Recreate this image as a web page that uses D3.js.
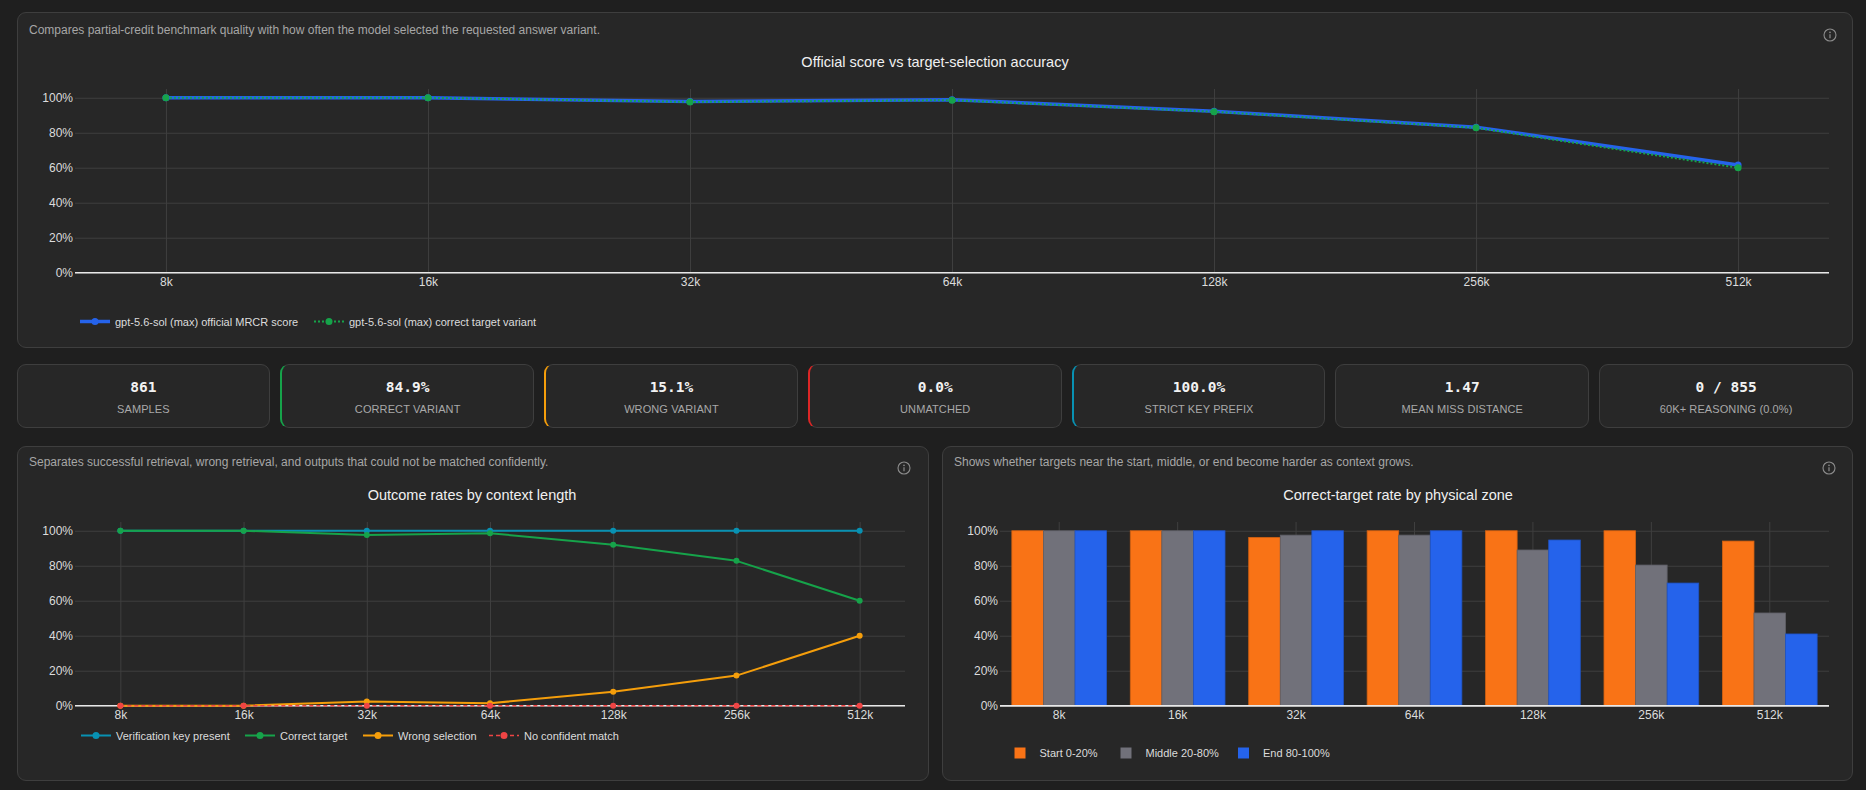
<!DOCTYPE html>
<html>
<head>
<meta charset="utf-8">
<script src="https://cdn.jsdelivr.net/npm/d3@7"></script>
<style>
  body { margin: 0; width: 1866px; height: 790px; overflow: hidden; background: #1f1f1f;
         font-family: "Liberation Sans", Arial, sans-serif; }
  .panel { position: absolute; box-sizing: border-box; background: #272727;
           border: 1px solid #3e3e3e; border-radius: 9px; }
  .card { position: absolute; box-sizing: border-box; background: #272727;
          border: 1px solid #3e3e3e; border-radius: 9px; text-align: center; }
  .card .v { position: absolute; left: 0; right: 0; top: 14px; font: bold 14.5px "DejaVu Sans Mono", monospace; color: #f2f2f2; }
  .card .l { position: absolute; left: 0; right: 0; top: 38px; font-size: 11px; color: #a9a9a9; letter-spacing: 0.1px; }
  #chart { position: absolute; left: 0; top: 0; }
</style>
</head>
<body>
<svg id="chart" width="1866" height="790"></svg>
<script>
// context lengths shared by every chart
const contexts = ['8k', '16k', '32k', '64k', '128k', '256k', '512k'];
const yTicks = [0, 20, 40, 60, 80, 100];

// top chart
const officialScore = [100, 100, 97.8, 98.9, 92.3, 83.2, 61.6];
const correctVariant = [100, 100, 97.6, 98.6, 92.0, 82.8, 60.0];

// outcome chart
const keyPresent = [100, 100, 100, 100, 100, 100, 100];
const correctTarget = [100, 100, 97.6, 98.6, 92.0, 82.8, 60.0];
const wrongSelection = [0, 0, 2.4, 1.4, 8.0, 17.2, 40.0];
const noMatch = [0, 0, 0, 0, 0, 0, 0];

// zone chart
const zones = ['Start 0-20%', 'Middle 20-80%', 'End 80-100%'];
const zoneStart = [100, 100, 96.2, 100, 100, 100, 94.1];
const zoneMiddle = [100, 100, 97.5, 97.5, 89.0, 80.4, 53.0];
const zoneEnd = [100, 100, 100, 100, 94.7, 70.1, 41.0];

// stat cards
const statValues = ['861', '84.9%', '15.1%', '0.0%', '100.0%', '1.47', '0 / 855'];
const statLabels = ['SAMPLES', 'CORRECT VARIANT', 'WRONG VARIANT', 'UNMATCHED', 'STRICT KEY PREFIX', 'MEAN MISS DISTANCE', '60K+ REASONING (0.0%)'];
const statAccents = [null, '#16a34a', '#f59e0b', '#dc2626', '#0891b2', null, null];

/*************************************************************************/

const BLUE = '#2563eb', GREEN = '#16a34a', TEAL = '#0891b2', AMBER = '#f59e0b', RED = '#ef4444';
const ORANGE = '#f97316', GREY = '#71717a';
const GRID = '#3f3f3f', TICK = '#dcdcdc';

const body = d3.select('body');
const svg = d3.select('#chart');

function panel(x0, y0, x1, y1){
  body.insert('div', '#chart').attr('class', 'panel')
    .style('left', x0 + 'px').style('top', y0 + 'px')
    .style('width', (x1 - x0) + 'px').style('height', (y1 - y0) + 'px');
}

function infoIcon(cx, cy){
  var g = svg.append('g').attr('transform', 'translate(' + cx + ',' + cy + ')');
  g.append('circle').attr('r', 6).attr('fill', 'none').attr('stroke', '#8c8c8c').attr('stroke-width', 1.1);
  g.append('circle').attr('cy', -2.6).attr('r', 0.8).attr('fill', '#8c8c8c');
  g.append('line').attr('y1', -0.8).attr('y2', 3.2).attr('stroke', '#8c8c8c').attr('stroke-width', 1.2);
}

function caption(x, y, txt){
  svg.append('text').attr('x', x).attr('y', y).attr('fill', '#a6a6a6')
    .attr('font-size', 12).text(txt);
}

function title(cx, y, txt){
  svg.append('text').attr('x', cx).attr('y', y).attr('text-anchor', 'middle')
    .attr('fill', '#f0f0f0').attr('font-size', 14.5).text(txt);
}

function grid(x, y, x0, x1, yTop, yBot){
  var g = svg.append('g');
  g.append('g').attr('transform', 'translate(' + x0 + ',0)')
    .call(d3.axisLeft(y).tickValues(yTicks).tickSize(-(x1 - x0)).tickPadding(2).tickFormat(d => d + '%'))
    .call(a => a.select('.domain').remove());
  g.append('g').attr('transform', 'translate(0,' + yBot + ')')
    .call(d3.axisBottom(x).tickSize(-(yBot - yTop)).tickPadding(4.5))
    .call(a => a.select('.domain').remove());
  g.selectAll('.tick line').attr('stroke', GRID).attr('stroke-width', 1);
  g.selectAll('.tick text').attr('fill', TICK).attr('font-size', 12)
    .attr('font-family', '"Liberation Sans", Arial, sans-serif');
  svg.append('line').attr('x1', x0).attr('x2', x1).attr('y1', y(0)).attr('y2', y(0))
    .attr('stroke', '#e8e8e8').attr('stroke-width', 1.5);
}

function series(x, y, values, color, width, dash, r){
  var pts = values.map((d, i) => [x(contexts[i]), y(d)]);
  svg.append('path').attr('d', d3.line()(pts)).attr('fill', 'none')
    .attr('stroke', color).attr('stroke-width', width)
    .attr('stroke-dasharray', dash).attr('stroke-linejoin', 'round');
  svg.append('g').selectAll('circle').data(pts).join('circle')
    .attr('cx', d => d[0]).attr('cy', d => d[1]).attr('r', r).attr('fill', color);
}

function lineLegend(items, y){
  items.forEach(it => {
    svg.append('line').attr('x1', it.x).attr('x2', it.x + 30).attr('y1', y).attr('y2', y)
      .attr('stroke', it.color).attr('stroke-width', it.width).attr('stroke-dasharray', it.dash);
    svg.append('circle').attr('cx', it.x + 15).attr('cy', y).attr('r', 3.5).attr('fill', it.color);
    svg.append('text').attr('x', it.x + 35).attr('y', y + 4).attr('fill', TICK)
      .attr('font-size', 11).text(it.label);
  });
}

/*************************************************************************/
// panels and cards

panel(16.5, 12, 1853, 347.5);
panel(16.5, 445.5, 928.5, 780.5);
panel(942, 445.5, 1853, 780.5);

var cardW = (1853 - 16.5 - 60) / 7;
statValues.forEach((v, i) => {
  var c = body.insert('div', '#chart').attr('class', 'card')
    .style('left', (16.5 + i * (cardW + 10)) + 'px').style('top', '364px')
    .style('width', cardW + 'px').style('height', '64px');
  if(statAccents[i]) c.style('border-left', '2.5px solid ' + statAccents[i]);
  c.append('div').attr('class', 'v').text(v);
  c.append('div').attr('class', 'l').text(statLabels[i]);
});

/*************************************************************************/
// official score vs target selection

caption(29, 33.5, 'Compares partial-credit benchmark quality with how often the model selected the requested answer variant.');
infoIcon(1830, 35);
title(935, 67, 'Official score vs target-selection accuracy');

var x1 = d3.scalePoint().domain(contexts).range([75, 1829]).padding(0.347);
var y1 = d3.scaleLinear().domain([0, 105]).range([272.7, 89]);
grid(x1, y1, 75, 1829, 89, 272.7);
series(x1, y1, officialScore, BLUE, 3.5, null, 3.5);
series(x1, y1, correctVariant, GREEN, 2, '2,2', 3.5);

lineLegend([
  { x: 80, color: BLUE, width: 3.5, dash: null, label: 'gpt-5.6-sol (max) official MRCR score' },
  { x: 314, color: GREEN, width: 2, dash: '2,2', label: 'gpt-5.6-sol (max) correct target variant' }
], 321.5);

/*************************************************************************/
// outcome rates

caption(29, 466, 'Separates successful retrieval, wrong retrieval, and outputs that could not be matched confidently.');
infoIcon(904, 468);
title(472, 500, 'Outcome rates by context length');

var x2 = d3.scalePoint().domain(contexts).range([75, 905]).padding(0.368);
var y2 = d3.scaleLinear().domain([0, 105]).range([705.7, 522]);
grid(x2, y2, 75, 905, 522, 705.7);
series(x2, y2, keyPresent, TEAL, 2, null, 3);
series(x2, y2, correctTarget, GREEN, 2, null, 3);
series(x2, y2, wrongSelection, AMBER, 2, null, 3);
series(x2, y2, noMatch, RED, 1.5, '4,3', 3);

lineLegend([
  { x: 81, color: TEAL, width: 2, dash: null, label: 'Verification key present' },
  { x: 245, color: GREEN, width: 2, dash: null, label: 'Correct target' },
  { x: 363, color: AMBER, width: 2, dash: null, label: 'Wrong selection' },
  { x: 489, color: RED, width: 1.5, dash: '4,3', label: 'No confident match' }
], 735.5);

/*************************************************************************/
// zone bars

caption(954, 466, 'Shows whether targets near the start, middle, or end become harder as context grows.');
infoIcon(1829, 468);
title(1398, 500, 'Correct-target rate by physical zone');

var x3 = d3.scaleBand().domain(contexts).range([1000, 1829]).paddingInner(0.2).paddingOuter(0.1);
var xz = d3.scaleBand().domain(zones).range([0, x3.bandwidth()]);
var y3 = d3.scaleLinear().domain([0, 105]).range([705.7, 522]);
var zoneColor = d3.scaleOrdinal().domain(zones).range([ORANGE, GREY, BLUE]);
grid(x3, y3, 1000, 1829, 522, 705.7);

var zoneRows = contexts.map((c, i) => [zoneStart[i], zoneMiddle[i], zoneEnd[i]].map((v, j) => ({ c: c, z: zones[j], v: v })));
svg.append('g').selectAll('g').data(zoneRows).join('g')
  .selectAll('rect').data(d => d).join('rect')
  .attr('x', d => x3(d.c) + xz(d.z)).attr('width', xz.bandwidth())
  .attr('y', d => y3(d.v)).attr('height', d => y3(0) - y3(d.v))
  .attr('fill', d => zoneColor(d.z))
  .attr('stroke', d => d3.color(zoneColor(d.z)).darker(0.5)).attr('stroke-width', 0.8);
svg.append('line').attr('x1', 1000).attr('x2', 1829).attr('y1', y3(0)).attr('y2', y3(0))
  .attr('stroke', '#e8e8e8').attr('stroke-width', 1.5);

var zoneLegendX = [1014.5, 1120.5, 1238];
zones.forEach((z, i) => {
  svg.append('rect').attr('x', zoneLegendX[i]).attr('y', 747.5).attr('width', 11).attr('height', 11)
    .attr('fill', zoneColor(z));
  svg.append('text').attr('x', zoneLegendX[i] + 25).attr('y', 757).attr('fill', TICK)
    .attr('font-size', 11).text(z);
});
</script>
</body>
</html>
